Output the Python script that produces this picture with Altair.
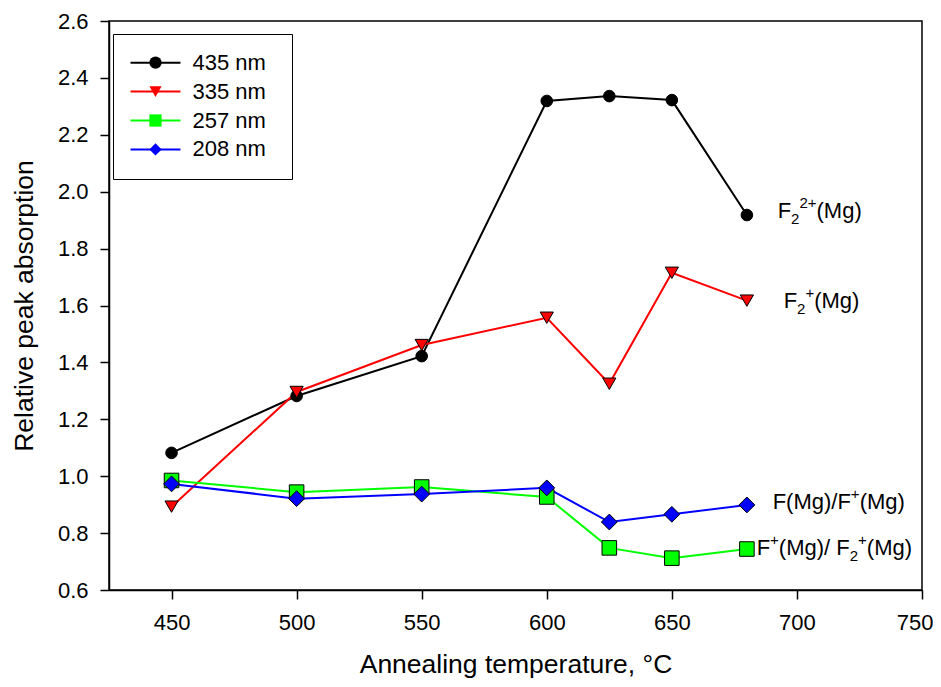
import altair as alt
import pandas as pd

FONT = "Liberation Sans"

temps = [450, 500, 550, 600, 625, 650, 680]
series_names = ["435 nm", "335 nm", "257 nm", "208 nm"]
v435 = [1.082, 1.282, 1.422, 2.319, 2.336, 2.322, 1.918]
v335 = [0.893, 1.296, 1.461, 1.557, 1.325, 1.715, 1.617]
v257 = [0.985, 0.944, 0.962, 0.927, 0.748, 0.712, 0.744]
v208 = [0.973, 0.921, 0.937, 0.959, 0.839, 0.866, 0.899]
colors = ["#000000", "#FF0000", "#00FF00", "#0000FF"]
shapes = ["circle", "triangle-down", "square", "diamond"]
marker_sizes = [170, 230, 135, 250]

x_ticks = [450, 500, 550, 600, 650, 700, 750]
y_ticks = [0.6, 0.8, 1.0, 1.2, 1.4, 1.6, 1.8, 2.0, 2.2, 2.4, 2.6]

# annotation anchors (data coordinates) and their pieces
annot_x = [692.3, 694.7, 690.3, 683.9]
annot_y = [1.9076, 1.5912, 0.883, 0.7213]
annot_parts = [
    [("F", "n"), ("2", "sub"), ("2+", "sup"), ("(Mg)", "n")],
    [("F", "n"), ("2", "sub"), ("+", "sup"), ("(Mg)", "n")],
    [("F(Mg)/F", "n"), ("+", "sup"), ("(Mg)", "n")],
    [("F", "n"), ("+", "sup"), ("(Mg)/ F", "n"), ("2", "sub"), ("+", "sup"), ("(Mg)", "n")],
]

rows = []
for name, vals in zip(series_names, [v435, v335, v257, v208]):
    for t, v in zip(temps, vals):
        rows.append({"series": name, "temp": t, "value": v})
df = pd.DataFrame(rows)

X = alt.X("temp:Q", scale=alt.Scale(domain=[425, 750], nice=False, zero=False),
          axis=alt.Axis(values=x_ticks, title="Annealing temperature, °C"))
Y = alt.Y("value:Q", scale=alt.Scale(domain=[0.6, 2.6], nice=False, zero=False),
          axis=alt.Axis(values=y_ticks, format=".1f", title="Relative peak absorption"))

# framed legend: coloured line segments (empty labels, offset only to size the frame)
legend_lines = alt.Legend(
    orient="none", legendX=4, legendY=13, padding=17.7, strokeColor="black",
    symbolType="M-4,0H4", symbolSize=156, symbolStrokeWidth=2,
    symbolOffset=13.8, labelOffset=107.8, labelExpr="''", labelFontSize=22,
    labelFont=FONT, rowPadding=6.9, title=None,
)
# marker legend drawn at the same place, with the visible labels
legend_points = alt.Legend(
    orient="none", legendX=4, legendY=13, padding=17.7, symbolSize=150,
    symbolStrokeWidth=1, symbolStrokeColor="black", symbolOffset=13.8, labelOffset=26,
    labelFontSize=22, labelFont=FONT, labelColor="black", rowPadding=6.9, title=None,
)

lines = alt.Chart(df).mark_line(strokeWidth=2).encode(
    x=X, y=Y,
    stroke=alt.Stroke("series:N", scale=alt.Scale(domain=series_names, range=colors),
                      legend=legend_lines),
)
points = alt.Chart(df).mark_point(filled=True, stroke="black", strokeWidth=1, opacity=1).encode(
    x=X, y=Y,
    fill=alt.Fill("series:N", sort="descending", scale=alt.Scale(range=colors), legend=legend_points),
    shape=alt.Shape("series:N", sort="descending", scale=alt.Scale(range=shapes), legend=legend_points),
    size=alt.Size("series:N", sort="ascending", scale=alt.Scale(range=marker_sizes[::-1]), legend=None),
)

W = {"F": 0.611, "(": 0.333, ")": 0.333, "M": 0.833, "g": 0.556, "/": 0.278,
     " ": 0.278, "2": 0.556, "+": 0.584}
MAIN, SCRIPT = 22, 15
texts = []
for ax, ay, parts in zip(annot_x, annot_y, annot_parts):
    dx = 0.0
    for s, kind in parts:
        fs = MAIN if kind == "n" else SCRIPT
        dy = {"n": 0, "sub": 6, "sup": -10}[kind]
        d = pd.DataFrame({"x": [ax], "y": [ay], "t": [s]})
        texts.append(
            alt.Chart(d).mark_text(align="left", baseline="alphabetic", dx=dx, dy=dy,
                                   fontSize=fs, font=FONT, color="black")
            .encode(x="x:Q", y="y:Q", text="t:N")
        )
        dx += sum(W[c] for c in s) * fs

chart = alt.layer(lines, points, *texts).properties(
    width=813, height=569,
    autosize=alt.AutoSizeParams(type="none"),
    padding={"left": 101, "top": 13, "right": 11, "bottom": 89},
).configure_view(
    stroke="black", strokeWidth=1.5
).configure_axis(
    grid=False, domainColor="black", domainWidth=1.5, tickColor="black", tickWidth=1.5,
    tickSize=9, labelFont=FONT, labelFontSize=22, labelColor="black",
    titleFont=FONT, titleFontSize=26.5, titleFontWeight="normal", titleColor="black",
).configure_axisX(
    labelPadding=13.5, titlePadding=18, labelFlush=1, labelFlushOffset=11,
).configure_axisY(
    labelPadding=12, titlePadding=19,
)

chart.save("out.html", embed_options={"renderer": "svg", "actions": False})
